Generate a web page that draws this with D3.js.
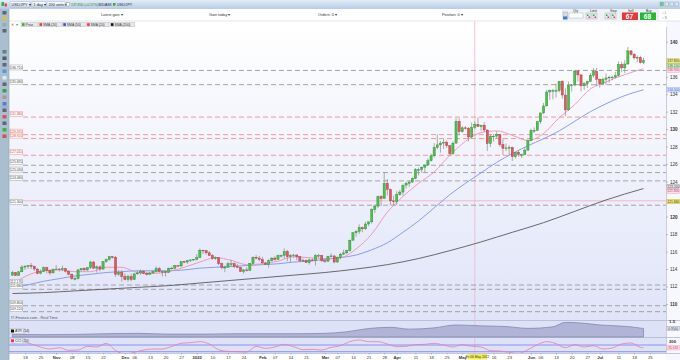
<!DOCTYPE html>
<html>
<head>
    <meta charset="UTF-8">
    <title>USD/JPY 1 day</title>
    <script src="https://d3js.org/d3.v7.min.js"></script>
    <style type="text/css">
        body { margin: 0; background: #fff; }
        svg { display: block; font-family: "Liberation Sans", Arial, sans-serif; }
    </style>
</head>
<body>
<script type="text/javascript">
    // sessions on the chart (one candle per weekday), axis runs a little past the last one
    var firstDay = "2021-10-12", axisEnd = "2022-07-29";

    // daily candles [open, high, low, close], one list per month
    var octCandles = [
        [113.30, 113.80, 113.20, 113.60], [113.60, 113.65, 113.20, 113.25], [113.25, 113.80, 113.20, 113.68],
        [113.68, 114.45, 113.65, 114.22], [114.22, 114.45, 113.90, 114.30], [114.30, 114.45, 114.00, 114.40],
        [114.40, 114.70, 114.00, 114.30], [114.30, 114.40, 113.80, 114.00], [114.00, 114.10, 113.40, 113.50],
        [113.50, 113.95, 113.40, 113.70], [113.70, 114.30, 113.65, 114.15], [114.15, 114.25, 113.50, 113.85],
        [113.85, 113.90, 113.30, 113.55], [113.55, 114.05, 113.55, 113.95]];
    var novCandles = [
        [113.95, 114.45, 113.85, 114.00], [114.00, 114.10, 113.70, 113.95], [113.95, 114.40, 113.75, 114.05],
        [114.05, 114.10, 113.60, 113.75], [113.75, 113.85, 113.30, 113.40], [113.40, 113.50, 112.75, 112.90],
        [112.90, 113.10, 112.70, 112.90], [112.90, 114.00, 112.80, 113.90], [113.90, 114.10, 113.75, 114.05],
        [114.05, 114.20, 113.80, 113.90], [113.90, 114.20, 113.80, 114.15], [114.15, 114.95, 114.00, 114.80],
        [114.80, 114.95, 114.00, 114.10], [114.10, 114.40, 113.60, 114.25], [114.25, 114.40, 113.75, 114.00],
        [114.00, 114.90, 113.90, 114.85], [114.85, 115.20, 114.70, 115.10], [115.10, 115.50, 114.95, 115.40],
        [115.40, 115.50, 115.20, 115.35], [115.35, 115.50, 113.10, 113.40], [113.40, 113.90, 113.20, 113.60],
        [113.60, 113.90, 112.55, 113.15]];
    var decCandles = [
        [113.15, 113.50, 112.70, 112.80], [112.80, 113.35, 112.55, 113.15], [113.15, 113.45, 112.60, 112.80],
        [112.80, 113.50, 112.75, 113.45], [113.45, 113.80, 113.35, 113.55], [113.55, 113.95, 113.35, 113.75],
        [113.75, 113.85, 113.40, 113.50], [113.50, 113.70, 113.25, 113.40], [113.40, 113.70, 113.35, 113.55],
        [113.55, 113.85, 113.45, 113.70], [113.70, 114.30, 113.60, 114.05], [114.05, 114.25, 113.60, 113.70],
        [113.70, 113.85, 113.15, 113.70], [113.70, 113.75, 113.15, 113.60], [113.60, 114.15, 113.55, 114.10],
        [114.10, 114.30, 113.95, 114.10], [114.10, 114.45, 113.95, 114.40], [114.40, 114.45, 114.30, 114.35],
        [114.35, 114.90, 114.25, 114.85], [114.85, 114.95, 114.70, 114.80], [114.80, 115.00, 114.60, 114.95],
        [114.95, 115.05, 114.80, 115.05], [115.05, 115.15, 114.95, 115.10]];
    var janCandles = [
        [115.10, 115.70, 115.00, 115.30], [115.30, 116.35, 115.30, 116.15], [116.15, 116.20, 115.70, 116.10],
        [116.10, 116.15, 115.65, 115.85], [115.85, 116.05, 115.50, 115.55], [115.55, 115.70, 115.05, 115.20],
        [115.20, 115.45, 115.05, 115.30], [115.30, 115.35, 114.45, 114.60], [114.60, 114.75, 113.95, 114.20],
        [114.20, 114.40, 113.65, 114.20], [114.20, 114.80, 114.15, 114.60], [114.60, 115.05, 114.30, 114.60],
        [114.60, 114.75, 114.10, 114.30], [114.30, 114.60, 114.10, 114.20], [114.20, 114.25, 113.70, 113.70],
        [113.70, 114.00, 113.45, 113.90], [113.90, 114.20, 113.70, 113.85], [113.85, 114.70, 113.80, 114.65],
        [114.65, 115.45, 114.55, 115.35], [115.35, 115.60, 115.10, 115.25], [115.25, 115.50, 114.90, 115.10]];
    var febCandles = [
        [115.10, 115.40, 114.65, 114.70], [114.70, 114.80, 114.45, 114.55], [114.55, 115.10, 114.15, 114.95],
        [114.95, 115.35, 114.85, 115.25], [115.25, 115.45, 114.95, 115.10], [115.10, 115.65, 115.05, 115.55],
        [115.55, 115.65, 115.30, 115.55], [115.55, 116.35, 115.20, 116.00], [116.00, 116.20, 114.90, 115.40],
        [115.40, 115.70, 114.80, 115.55], [115.55, 115.75, 115.30, 115.60], [115.60, 115.70, 115.00, 115.40],
        [115.40, 115.45, 114.80, 114.95], [114.95, 115.20, 114.80, 115.00], [115.00, 115.10, 114.70, 114.75],
        [114.75, 115.20, 114.50, 115.05], [115.05, 115.20, 114.90, 115.00], [115.00, 115.70, 114.40, 115.55],
        [115.55, 115.75, 115.30, 115.55], [115.55, 115.60, 114.80, 114.95]];
    var marCandles = [
        [114.95, 115.15, 114.70, 114.90], [114.90, 115.50, 114.80, 115.45], [115.45, 115.80, 115.35, 115.50],
        [115.50, 115.55, 114.65, 114.80], [114.80, 115.45, 114.70, 115.30], [115.30, 115.85, 115.10, 115.70],
        [115.70, 116.20, 115.60, 115.85], [115.85, 116.20, 115.70, 116.10], [116.10, 117.35, 116.00, 117.30],
        [117.30, 118.20, 117.25, 118.15], [118.15, 118.45, 117.70, 118.30], [118.30, 119.10, 118.00, 118.75],
        [118.75, 118.85, 118.20, 118.60], [118.60, 119.40, 118.45, 119.15], [119.15, 119.45, 118.90, 119.40],
        [119.40, 120.95, 119.20, 120.80], [120.80, 121.40, 120.40, 121.20], [121.20, 122.40, 121.00, 122.30],
        [122.30, 122.45, 121.20, 122.05], [122.05, 125.10, 122.05, 123.80], [123.80, 124.30, 122.40, 123.10],
        [123.10, 123.20, 121.30, 121.80], [121.80, 122.40, 121.30, 121.70]];
    var aprCandles = [
        [121.70, 122.90, 121.30, 122.50], [122.50, 123.05, 122.40, 122.80], [122.80, 123.60, 122.40, 123.60],
        [123.60, 124.00, 123.20, 123.80], [123.80, 124.10, 123.40, 123.95], [123.95, 124.45, 123.85, 124.35],
        [124.35, 125.55, 124.30, 125.35], [125.35, 125.60, 124.70, 125.35], [125.35, 125.75, 125.00, 125.65],
        [125.65, 125.90, 125.10, 125.90], [125.90, 126.65, 125.80, 126.40], [126.40, 127.20, 126.30, 126.95],
        [126.95, 128.40, 126.75, 127.90], [127.90, 129.40, 127.70, 128.20], [128.20, 128.65, 127.30, 128.40],
        [128.40, 128.85, 127.75, 128.50], [128.50, 128.70, 127.85, 128.10], [128.10, 128.15, 126.95, 127.20],
        [127.20, 128.60, 127.05, 128.40], [128.40, 131.25, 128.35, 130.90], [130.90, 131.25, 129.30, 129.70]];
    var mayCandles = [
        [129.70, 130.35, 129.60, 130.15], [130.15, 130.35, 129.95, 130.10], [130.10, 130.25, 128.60, 129.10],
        [129.10, 130.75, 128.95, 130.20], [130.20, 130.90, 130.00, 130.55], [130.55, 131.35, 130.30, 130.30],
        [130.30, 130.50, 129.80, 130.45], [130.45, 130.80, 129.70, 129.90], [129.90, 129.95, 127.50, 128.35],
        [128.35, 129.35, 127.95, 129.20], [129.20, 129.45, 128.60, 129.20], [129.20, 129.75, 128.95, 129.40],
        [129.40, 129.45, 128.00, 128.25], [128.25, 128.90, 127.05, 127.80], [127.80, 128.35, 127.50, 127.85],
        [127.85, 128.15, 127.05, 127.90], [127.90, 128.00, 126.35, 126.85], [126.85, 127.40, 126.65, 127.35],
        [127.35, 127.60, 126.85, 127.10], [127.10, 127.20, 126.70, 127.10], [127.10, 127.90, 127.00, 127.60],
        [127.60, 128.80, 127.50, 128.70]];
    var junCandles = [
        [128.70, 130.05, 128.60, 129.85], [129.85, 130.20, 129.55, 129.85], [129.85, 130.95, 129.80, 130.85],
        [130.85, 131.90, 130.60, 131.85], [131.85, 133.00, 131.75, 132.65], [132.65, 134.50, 132.60, 134.25],
        [134.25, 134.55, 133.35, 134.40], [134.40, 134.60, 133.40, 134.40], [134.40, 135.20, 133.60, 134.40],
        [134.40, 135.45, 134.20, 135.45], [135.45, 135.60, 133.50, 133.90], [133.90, 134.65, 131.50, 132.20],
        [132.20, 135.45, 132.10, 135.00], [135.00, 135.15, 134.30, 135.05], [135.05, 136.70, 134.90, 136.65],
        [136.65, 136.70, 135.45, 136.20], [136.20, 136.30, 134.30, 134.95], [134.95, 135.40, 134.50, 135.20],
        [135.20, 135.55, 134.70, 135.45], [135.45, 136.40, 135.40, 136.15], [136.15, 137.00, 135.90, 136.60],
        [136.60, 137.00, 134.90, 135.70]];
    var julCandles = [
        [135.70, 135.80, 134.75, 135.20], [135.20, 135.90, 135.10, 135.70], [135.70, 136.35, 135.05, 135.85],
        [135.85, 136.10, 135.30, 135.95], [135.95, 136.10, 135.60, 135.95], [135.95, 136.55, 135.80, 136.10],
        [136.10, 137.75, 136.00, 137.40], [137.40, 137.70, 136.50, 137.00], [137.00, 137.90, 136.40, 137.45],
        [137.45, 139.40, 137.40, 138.95], [138.95, 139.05, 138.40, 138.55], [138.55, 138.70, 137.95, 138.15],
        [138.15, 138.40, 137.65, 138.20], [138.20, 138.40, 137.50, 137.60], [137.60, 138.15, 137.45, 137.85]];

    // moving averages at sample sessions (index into the candles)
    var smaIdx = [0, 5, 10, 15, 20, 25, 30, 35, 40, 45, 50, 55, 60, 65, 70, 75, 80, 85, 90, 95, 100,
        105, 110, 115, 120, 125, 130, 135, 140, 145, 150, 155, 160, 165, 170, 175, 180, 185, 190, 195, 200, 202];
    var smaFast = [112.3, 113.3, 113.8, 113.9, 113.7, 113.7, 114.2, 114.2, 113.6, 113.5, 113.7, 114.2, 114.8,
        115.3, 115.0, 114.5, 114.6, 114.9, 115.4, 115.3, 115.2, 115.3, 116.3, 118.0, 120.5, 122.3, 123.8,
        125.1, 127.0, 128.6, 129.6, 129.8, 129.3, 128.7, 129.5, 131.3, 132.8, 134.6, 135.4, 136.1, 136.7, 136.9];
    var sma50 = [111.9, 112.2, 112.6, 112.9, 113.2, 113.4, 113.6, 113.7, 113.8, 113.8, 113.8, 113.9, 114.1,
        114.2, 114.3, 114.4, 114.5, 114.6, 114.8, 114.9, 115.1, 115.3, 115.6, 116.2, 117.0, 118.2, 119.5,
        121.0, 122.5, 123.8, 125.0, 126.2, 127.2, 128.1, 128.9, 129.8, 130.9, 132.0, 132.9, 133.7, 134.3, 134.5];
    var sma200Idx = [0, 10, 20, 30, 40, 50, 60, 70, 80, 90, 100, 110, 120, 130, 140, 150, 160, 170, 180, 190, 202];
    var sma200 = [111.2, 111.3, 111.5, 111.7, 111.9, 112.1, 112.4, 112.7, 113.0, 113.3, 113.6, 114.0, 114.5,
        115.2, 116.1, 117.1, 118.2, 119.3, 120.6, 121.9, 123.2];

    // horizontal levels (s = support/grey, r = resistance/red) and the solid pivot line
    var levelPrices = [136.71, 135.08, 131.38, 129.37, 128.92, 127.01, 125.87, 125.03, 124.08, 121.30,
        112.17, 111.68, 109.80, 109.12];
    var levelKinds = ["s", "s", "r", "r", "r", "r", "s", "s", "s", "s", "s", "s", "s", "s"];
    var pivotPrice = 121.80;

    // ATR (14) and CCI (20) panels
    var atrIdx = [0, 10, 20, 30, 40, 50, 60, 70, 80, 90, 100, 107, 114, 121, 127, 135, 142, 147, 152, 158,
        165, 173, 177, 183, 188, 197, 202];
    var atrVals = [0.50, 0.48, 0.50, 0.55, 0.58, 0.52, 0.52, 0.55, 0.55, 0.55, 0.58, 0.70, 0.95, 1.04, 0.90,
        1.00, 1.22, 1.18, 1.14, 1.10, 0.96, 1.08, 1.42, 1.35, 1.22, 1.10, 0.95];
    var cciIdx = [0, 3, 6, 9, 12, 15, 18, 21, 24, 27, 30, 33, 36, 39, 42, 45, 48, 51, 54, 57, 60, 63, 66, 69,
        72, 75, 78, 81, 84, 87, 90, 93, 96, 99, 102, 105, 108, 111, 114, 117, 120, 123, 126, 129, 132, 135,
        138, 141, 144, 147, 150, 153, 156, 159, 162, 165, 168, 171, 174, 177, 180, 183, 186, 189, 192, 195,
        198, 201, 202];
    var cciVals = [150, 180, 130, 40, -20, 20, -60, -50, 60, 40, 150, -60, -170, -120, -50, -20, -20, 60, 150,
        170, 200, 130, -40, -90, -100, -110, 60, 0, 40, 120, 50, -40, -30, -50, 30, 80, 200, 250, 200, 200,
        130, 50, 60, 110, 120, 150, 100, 40, 110, 60, 40, -70, -80, -120, -150, -40, 110, 200, 140, 20, 110,
        40, 80, -20, 10, 130, 160, 30, 10];
    var cciLast = 35.618;

    // axis ticks
    var priceTicks = [110, 112, 114, 116, 118, 120, 122, 124, 126, 128, 130, 132, 134, 136, 138, 140];
    var tickDays = ["2021-10-18", "2021-10-25", "2021-11-01", "2021-11-08", "2021-11-15", "2021-11-22",
        "2021-12-01", "2021-12-06", "2021-12-13", "2021-12-20", "2021-12-27", "2022-01-03", "2022-01-10",
        "2022-01-17", "2022-01-24", "2022-02-01", "2022-02-07", "2022-02-14", "2022-02-21", "2022-03-01",
        "2022-03-07", "2022-03-14", "2022-03-21", "2022-03-28", "2022-04-01", "2022-04-11", "2022-04-18",
        "2022-04-25", "2022-05-02", "2022-05-16", "2022-05-23", "2022-06-01", "2022-06-06",
        "2022-06-13", "2022-06-20", "2022-06-27", "2022-07-01", "2022-07-11", "2022-07-18", "2022-07-25"];
    var tickLabels = ["18", "25", "Nov", "08", "15", "22", "Dec", "06", "13", "20", "27", "2022", "10", "17",
        "24", "Feb", "07", "14", "21", "Mar", "07", "14", "21", "28", "Apr", "11", "18", "25", "May",
        "16", "23", "Jun", "06", "13", "20", "27", "Jul", "11", "18", "25"];
    var crossDay = "2022-05-06", crossLabel = "Fri 06 May 2022";

    // ---------------------------------------------------------------
    var W = 680, H = 360;
    var plot = { left: 9, right: 666, top: 27, bottom: 320 };
    var atrBox = { top: 320, bottom: 337 }, cciBox = { top: 337, bottom: 353 };

    var parseDay = d3.utcParse("%Y-%m-%d"), fmtDay = d3.utcFormat("%Y-%m-%d");
    var days = d3.utcDay.range(parseDay(firstDay), d3.utcDay.offset(parseDay(axisEnd), 1))
        .filter(function (d) { return d.getUTCDay() > 0 && d.getUTCDay() < 6; });
    var dayIndex = new Map(days.map(function (d, i) { return [fmtDay(d), i]; }));

    var candles = [].concat(octCandles, novCandles, decCandles, janCandles, febCandles, marCandles,
        aprCandles, mayCandles, junCandles, julCandles).map(function (c, i) {
            return { i: i, o: c[0], h: c[1], l: c[2], c: c[3] };
        });
    var last = candles[candles.length - 1];

    var x = d3.scaleLinear().domain([-1.1, 209.2]).range([plot.left, plot.right]);
    var y = d3.scaleLinear().domain([110, 140]).range([304, 41.7]);
    var yAtr = d3.scaleLinear().domain([0.3, 1.6]).range([atrBox.bottom, atrBox.top]);
    var yCci = d3.scaleLinear().domain([-100, 100]).range([351.7, 345]);

    var svg = d3.select("body").append("svg").attr("width", W).attr("height", H);
    var defs = svg.append("defs");

    function vGrad(id, stops) {
        var g = defs.append("linearGradient").attr("id", id).attr("x1", 0).attr("x2", 0).attr("y1", 0).attr("y2", 1);
        stops.forEach(function (s) { g.append("stop").attr("offset", s[0]).attr("stop-color", s[1]); });
    }
    vGrad("barGrad", [[0, "#e2ecf8"], [1, "#b7cce6"]]);
    vGrad("plotGrad", [[0, "#ffffff"], [1, "#dfe4f8"]]);
    vGrad("tabGrad", [[0, "#ffffff"], [1, "#d3deec"]]);

    defs.append("clipPath").attr("id", "clipMain").append("rect")
        .attr("x", plot.left).attr("y", plot.top)
        .attr("width", plot.right - plot.left).attr("height", plot.bottom - plot.top);
    defs.append("clipPath").attr("id", "clipCci").append("rect")
        .attr("x", plot.left).attr("y", cciBox.top)
        .attr("width", plot.right - plot.left).attr("height", cciBox.bottom - cciBox.top);

    // ---- panels background
    svg.append("rect").attr("x", plot.left).attr("y", plot.top)
        .attr("width", plot.right - plot.left).attr("height", plot.bottom - plot.top)
        .attr("fill", "url(#plotGrad)");
    svg.append("rect").attr("x", plot.left).attr("y", atrBox.top)
        .attr("width", plot.right - plot.left).attr("height", cciBox.bottom - atrBox.top)
        .attr("fill", "#dde2f7");
    svg.append("rect").attr("x", plot.right).attr("y", 21).attr("width", W - plot.right).attr("height", H - 21)
        .attr("fill", "#f7f8fd");
    [plot.bottom, atrBox.bottom, cciBox.bottom].forEach(function (yy) {
        svg.append("line").attr("x1", plot.left).attr("x2", W).attr("y1", yy + 0.5).attr("y2", yy + 0.5)
            .attr("stroke", "#aab2cf").attr("stroke-width", 0.7);
    });
    svg.append("line").attr("x1", plot.right + 0.5).attr("x2", plot.right + 0.5).attr("y1", plot.top).attr("y2", cciBox.bottom)
        .attr("stroke", "#b5bbd0").attr("stroke-width", 0.7);

    // ---- crosshair
    var crossX = x(dayIndex.get(crossDay));
    svg.append("line").attr("x1", crossX).attr("x2", crossX).attr("y1", 9).attr("y2", cciBox.bottom)
        .attr("stroke", "#f2b6c6").attr("stroke-width", 0.8);

    var main = svg.append("g").attr("clip-path", "url(#clipMain)");

    // ---- horizontal levels
    main.selectAll(".level").data(levelPrices).enter().append("line")
        .attr("class", "level")
        .attr("x1", 23).attr("x2", plot.right)
        .attr("y1", function (d) { return y(d); }).attr("y2", function (d) { return y(d); })
        .attr("stroke", function (d, i) { return levelKinds[i] === "r" ? "#f08c8c" : "#9a9a9a"; })
        .attr("stroke-width", 0.9)
        .attr("stroke-dasharray", "5,3");
    main.append("line").attr("x1", plot.left).attr("x2", plot.right)
        .attr("y1", y(pivotPrice)).attr("y2", y(pivotPrice))
        .attr("stroke", "#f5a9bd").attr("stroke-width", 0.8);

    // ---- moving averages
    var avgLine = d3.line().curve(d3.curveMonotoneX)
        .x(function (d) { return x(d[0]); }).y(function (d) { return y(d[1]); });
    main.append("path").attr("d", avgLine(d3.zip(sma200Idx, sma200)))
        .attr("fill", "none").attr("stroke", "#5a5a5a").attr("stroke-width", 0.9);
    main.append("path").attr("d", avgLine(d3.zip(smaIdx, sma50)))
        .attr("fill", "none").attr("stroke", "#7d94ec").attr("stroke-width", 0.9);
    main.append("path").attr("d", avgLine(d3.zip(smaIdx, smaFast)))
        .attr("fill", "none").attr("stroke", "#f18fb4").attr("stroke-width", 0.9);

    // ---- candles
    var cg = main.selectAll(".candle").data(candles).enter().append("g").attr("class", "candle");
    cg.append("line")
        .attr("x1", function (d) { return x(d.i); }).attr("x2", function (d) { return x(d.i); })
        .attr("y1", function (d) { return y(d.h); }).attr("y2", function (d) { return y(d.l); })
        .attr("stroke", "#8a8a8a").attr("stroke-width", 0.7);
    cg.append("rect")
        .attr("x", function (d) { return x(d.i) - 1.1; })
        .attr("width", 2.2)
        .attr("y", function (d) { return y(Math.max(d.o, d.c)); })
        .attr("height", function (d) { return Math.max(0.7, Math.abs(y(d.o) - y(d.c))); })
        .attr("fill", function (d) { return d.c >= d.o ? "#4cbf4c" : "#e0585d"; })
        .attr("stroke", function (d) { return d.c >= d.o ? "#2f8a2f" : "#a83a3e"; })
        .attr("stroke-width", 0.4);

    // ---- level tags on the left
    var fmt3 = d3.format(".3f");
    var tags = svg.selectAll(".ltag").data(levelPrices).enter().append("g").attr("class", "ltag")
        .attr("transform", function (d) { return "translate(10," + (y(d) - 5.5) + ")"; });
    tags.append("rect").attr("width", 12.5).attr("height", 5)
        .attr("fill", "#fff")
        .attr("stroke", function (d, i) { return levelKinds[i] === "r" ? "#ef8e8e" : "#a0a0a0"; })
        .attr("stroke-width", 0.5);
    tags.append("text").attr("x", 6.25).attr("y", 3.7).attr("text-anchor", "middle")
        .attr("font-size", 3.4).attr("fill", function (d, i) { return levelKinds[i] === "r" ? "#d23c3c" : "#444"; })
        .text(function (d) { return fmt3(d); });

    // ---- value tags on the right (stacked where they would collide)
    var lastFast = smaFast[smaFast.length - 1], lastSma50 = sma50[sma50.length - 1], lastSma200 = sma200[sma200.length - 1];
    var rightTags = [
        { v: fmt3(last.c), yy: 61, fill: "#f4ea72", stroke: "#b9ab2a", color: "#333" },
        { v: fmt3(last.h), yy: 65.6, fill: "#d5f2cf", stroke: "#69b35c", color: "#2a6a2a" },
        { v: fmt3(lastFast), yy: 70.2, fill: "#fde1ea", stroke: "#f08fb1", color: "#c0406d" },
        { v: fmt3(lastSma50), yy: y(lastSma50), fill: "#e2e8ff", stroke: "#7d94ec", color: "#3650b8" },
        { v: fmt3(lastSma200), yy: y(lastSma200) - 2, fill: "#ececec", stroke: "#888", color: "#333" },
        { v: fmt3(pivotPrice), yy: y(lastSma200) + 2.8, fill: "#fde1ea", stroke: "#f08fb1", color: "#c0406d" },
        { v: fmt3(levelPrices[9] + 0.54), yy: y(pivotPrice) + 0.8, fill: "#f4ea72", stroke: "#b9ab2a", color: "#333" }
    ];

    // ---- right price axis, tick labels hidden where a tag sits
    var yAxis = d3.axisRight(y).tickValues(priceTicks.filter(function (p) {
        return !rightTags.some(function (t) { return Math.abs(t.yy - y(p)) < 4.2; });
    })).tickSize(2).tickPadding(2).tickFormat(d3.format("d"));
    var ya = svg.append("g").attr("transform", "translate(" + plot.right + ",0)").call(yAxis);
    ya.select(".domain").remove();
    ya.selectAll("line").attr("stroke", "#888").attr("stroke-width", 0.5);
    ya.selectAll("text").attr("font-size", 4.6).attr("fill", "#333")
        .attr("font-weight", function (d) { return d % 10 === 0 ? "bold" : "normal"; });

    function rightTag(t) {
        var g = svg.append("g").attr("transform", "translate(" + (plot.right + 1) + "," + (t.yy - 2.2) + ")");
        g.append("rect").attr("width", 12.5).attr("height", 4.4).attr("fill", t.fill)
            .attr("stroke", t.stroke).attr("stroke-width", 0.4);
        g.append("text").attr("x", 6.2).attr("y", 3.3).attr("text-anchor", "middle")
            .attr("font-size", 3.2).attr("fill", t.color).text(t.v);
    }
    rightTags.forEach(rightTag);

    // ---- ATR panel
    var atrPts = d3.zip(atrIdx, atrVals);
    svg.append("path")
        .attr("d", d3.area().curve(d3.curveMonotoneX)
            .x(function (d) { return x(d[0]); })
            .y0(atrBox.bottom).y1(function (d) { return yAtr(d[1]); })(atrPts))
        .attr("fill", "#b0b5d8").attr("stroke", "#7b7fa4").attr("stroke-width", 0.7);
    svg.append("text").attr("x", plot.right + 3).attr("y", yAtr(1.5) + 1.6)
        .attr("font-size", 4.4).attr("font-weight", "bold").attr("fill", "#333").text("1.5");
    rightTag({ v: d3.format(".4f")(atrVals[atrVals.length - 1]), yy: 328.5, fill: "#e8e9f4", stroke: "#8c8fb0", color: "#333" });

    // ---- CCI panel
    var cciG = svg.append("g").attr("clip-path", "url(#clipCci)");
    [-100, 100].forEach(function (v) {
        cciG.append("line").attr("x1", plot.left).attr("x2", plot.right).attr("y1", yCci(v)).attr("y2", yCci(v))
            .attr("stroke", "#7b7ee8").attr("stroke-width", 0.8);
    });
    cciG.append("path")
        .attr("d", d3.line().curve(d3.curveMonotoneX)
            .x(function (d) { return x(d[0]); }).y(function (d) { return yCci(d[1]); })(d3.zip(cciIdx, cciVals)))
        .attr("fill", "none").attr("stroke", "#ec7aa4").attr("stroke-width", 0.8);
    svg.append("text").attr("x", plot.right + 3).attr("y", yCci(200) + 1.2)
        .attr("font-size", 4.2).attr("font-weight", "bold").attr("fill", "#333").text("200");
    rightTag({ v: fmt3(cciLast), yy: 347.8, fill: "#fde1ea", stroke: "#f08fb1", color: "#c0406d" });

    // panel captions
    svg.append("text").attr("x", 11).attr("y", 318.6).attr("font-size", 3.8).attr("fill", "#555")
        .text("IT-Finance.com - Real Time");
    function caption(yy, sw, label) {
        var g = svg.append("g").attr("transform", "translate(10," + yy + ")");
        g.append("rect").attr("width", 15).attr("height", 5).attr("fill", "#eef0f8").attr("stroke", "#a9adc6").attr("stroke-width", 0.4);
        g.append("rect").attr("x", 1).attr("y", 1).attr("width", 3).attr("height", 3).attr("fill", sw);
        g.append("text").attr("x", 5).attr("y", 3.8).attr("font-size", 3.6).attr("fill", "#333").text(label);
    }
    caption(328.5, "#111", "ATR (14)");
    caption(338.3, "#e8365f", "CCI (20)");

    // ---- time axis
    var tickIdx = tickDays.map(function (d) { return dayIndex.get(d); });
    var xAxis = d3.axisBottom(x).tickValues(tickIdx).tickSize(1.5).tickPadding(1.5)
        .tickFormat(function (d, i) { return tickLabels[i]; });
    var xa = svg.append("g").attr("transform", "translate(0," + cciBox.bottom + ")").call(xAxis);
    xa.select(".domain").remove();
    xa.selectAll("line").attr("stroke", "#888").attr("stroke-width", 0.5);
    xa.selectAll("text").attr("font-size", 4.2).attr("fill", "#333")
        .attr("font-weight", function (d, i) { return /^[A-Z]|2022/.test(tickLabels[i]) ? "bold" : "normal"; });
    var cb = svg.append("g").attr("transform", "translate(" + crossX + ",354)");
    cb.append("rect").attr("x", -7.5).attr("width", 20).attr("height", 5.5).attr("fill", "#f3ef5a");
    cb.append("text").attr("x", 2.5).attr("y", 4.1).attr("text-anchor", "middle").attr("font-size", 3.3).attr("fill", "#333").text(crossLabel);

    // ---- top bar
    svg.append("rect").attr("width", W).attr("height", 9).attr("fill", "url(#barGrad)");
    svg.append("rect").attr("x", 1.5).attr("y", 2).attr("width", 2.5).attr("height", 4).attr("fill", "#3faa3f");
    svg.append("rect").attr("x", 4.5).attr("y", 3.5).attr("width", 2.5).attr("height", 3).attr("fill", "#d94a4a");
    function tab(x0, w, label) {
        svg.append("rect").attr("x", x0).attr("y", 1.5).attr("width", w).attr("height", 5.5)
            .attr("fill", "url(#tabGrad)").attr("stroke", "#8ea5c2").attr("stroke-width", 0.4).attr("rx", 0.8);
        svg.append("text").attr("x", x0 + 1.5).attr("y", 5.6).attr("font-size", 3.8).attr("fill", "#223")
            .text(label + " \u25BE");
    }
    tab(10, 20, "USD/JPY");
    tab(32, 14, "1 day");
    tab(47, 18, "200 units");
    svg.append("rect").attr("x", 66.5).attr("y", 2.5).attr("width", 3).attr("height", 3.5).attr("fill", "#fff").attr("stroke", "#889").attr("stroke-width", 0.4);
    svg.append("text").attr("x", 71).attr("y", 5.6).attr("font-size", 3.4).attr("fill", "#1f8a1f")
        .text(fmt3(last.c) + " (+0.57%)");
    svg.append("text").attr("x", 98.5).attr("y", 5.6).attr("font-size", 3.4).attr("fill", "#223").text("BID/ASK \u25BE");
    svg.append("rect").attr("x", 113).attr("y", 3).attr("width", 2.5).attr("height", 2.5).attr("fill", "#3faa3f");
    svg.append("text").attr("x", 117).attr("y", 5.6).attr("font-size", 3.6).attr("fill", "#223").text("USD/JPY");
    [660, 665, 670, 675].forEach(function (xx, i) {
        svg.append("rect").attr("x", xx).attr("y", 2).attr("width", 3.5).attr("height", 4)
            .attr("fill", i === 0 ? "#6c9" : "#dde7f3").attr("stroke", "#7f95b3").attr("stroke-width", 0.4);
    });

    // ---- info row
    svg.append("rect").attr("x", 9).attr("y", 9).attr("width", W - 9).attr("height", 12).attr("fill", "#fff");
    svg.append("line").attr("x1", 9).attr("x2", W).attr("y1", 21).attr("y2", 21).attr("stroke", "#cfd6e2").attr("stroke-width", 0.6);
    [[101, "Latest gain \u25BE"], [209, "Gain today \u25BE"], [318, "Orders: 0 \u25BE"], [442, "Position: 0 \u25BE"]].forEach(function (t) {
        svg.append("text").attr("x", t[0]).attr("y", 15.5).attr("font-size", 3.8).attr("fill", "#333").text(t[1]);
    });
    // order ticket
    svg.append("rect").attr("x", 562).attr("y", 9).attr("width", 97).attr("height", 12).attr("fill", "#eef1f6");
    svg.append("rect").attr("x", 563).attr("y", 12).attr("width", 4.5).attr("height", 4.5).attr("fill", "#d5dde9").attr("stroke", "#8895aa").attr("stroke-width", 0.4);
    svg.append("rect").attr("x", 563).attr("y", 16.5).attr("width", 4.5).attr("height", 3).attr("fill", "#4a7cc8");
    [[573, "Qty"], [590, "Limit"], [610, "Stop"], [628, "Sell"], [646, "Buy"]].forEach(function (t) {
        svg.append("text").attr("x", t[0]).attr("y", 11.6).attr("font-size", 3.3).attr("fill", "#333").text(t[1]);
    });
    svg.append("rect").attr("x", 569).attr("y", 13).attr("width", 14).attr("height", 5).attr("fill", "#fff").attr("stroke", "#9aa").attr("stroke-width", 0.4);
    [586, 592, 605, 611].forEach(function (xx) {
        svg.append("rect").attr("x", xx).attr("y", 13).attr("width", 5).attr("height", 6).attr("fill", "#e4e8ee").attr("stroke", "#9aa").attr("stroke-width", 0.4);
        svg.append("rect").attr("x", xx + 1).attr("y", 14.5).attr("width", 1.5).attr("height", 1.5).attr("fill", "#3a3");
        svg.append("rect").attr("x", xx + 2.5).attr("y", 16.5).attr("width", 1.5).attr("height", 1.5).attr("fill", "#d44");
    });
    svg.append("rect").attr("x", 622).attr("y", 12.5).attr("width", 16).attr("height", 7.5).attr("fill", "#e23b3b");
    svg.append("text").attr("x", 633).attr("y", 18.6).attr("text-anchor", "end").attr("font-size", 6.5).attr("font-weight", "bold").attr("fill", "#fff").text("67");
    svg.append("rect").attr("x", 640).attr("y", 12.5).attr("width", 16).attr("height", 7.5).attr("fill", "#27b737");
    svg.append("text").attr("x", 651).attr("y", 18.6).attr("text-anchor", "end").attr("font-size", 6.5).attr("font-weight", "bold").attr("fill", "#fff").text("68");
    svg.append("text").attr("x", 662).attr("y", 13.5).attr("font-size", 3).attr("fill", "#555").text("\u25CB L");
    svg.append("text").attr("x", 662).attr("y", 18.5).attr("font-size", 3).attr("fill", "#555").text("\u25CB S");

    // ---- legend row
    var legend = [["Price", "#3fae3f"], ["SMA (20)", "#e23b3b"], ["SMA (50)", "#2f4fe0"], ["SMA (20)", "#e8365f"], ["SMA (200)", "#111"]];
    svg.append("text").attr("x", 11).attr("y", 25.6).attr("font-size", 3.8).attr("fill", "#c33").text("\u2715");
    svg.append("text").attr("x", 16).attr("y", 25.6).attr("font-size", 3.8).attr("fill", "#3a3").text("\u25BE");
    var lx = 21;
    legend.forEach(function (l) {
        var w = 6 + l[0].length * 2.1;
        svg.append("rect").attr("x", lx).attr("y", 22.3).attr("width", w).attr("height", 4.5)
            .attr("fill", "#e9e9ea").attr("stroke", "#b8b8bc").attr("stroke-width", 0.4);
        svg.append("rect").attr("x", lx + 1).attr("y", 23.2).attr("width", 2.6).attr("height", 2.7).attr("fill", l[1]);
        svg.append("text").attr("x", lx + 4.5).attr("y", 25.8).attr("font-size", 3.4).attr("fill", "#333").text(l[0]);
        lx += w + 1;
    });

    // ---- left tool strip
    svg.append("rect").attr("x", 0).attr("y", 9).attr("width", 9).attr("height", H - 9).attr("fill", "#a9bfcf");
    svg.append("line").attr("x1", 9).attr("x2", 9).attr("y1", 9).attr("y2", H).attr("stroke", "#8aa2b6").attr("stroke-width", 0.6);
    var toolCols = ["#556", "#e5c21e", "#8aa", "#556", "#5a6f8a", "#4a4a4a", "#557", "#4d8fe0", "#eee", "#556", "#2a9a3a",
        "#b88", "#4a6fd8", "#556", "#d44", "#556", "#3a3", "#c44"];
    toolCols.forEach(function (c, i) {
        var yy = (i < 4 ? 11 + i * 6 : 50 + (i - 4) * 6.5);
        svg.append("rect").attr("x", 2.5).attr("y", yy).attr("width", 4).attr("height", 3.5).attr("fill", c).attr("opacity", 0.85);
    });
    svg.append("line").attr("x1", 1).attr("x2", 8).attr("y1", 107).attr("y2", 107).attr("stroke", "#7d93a6").attr("stroke-width", 0.5);
</script>
</body>
</html>
